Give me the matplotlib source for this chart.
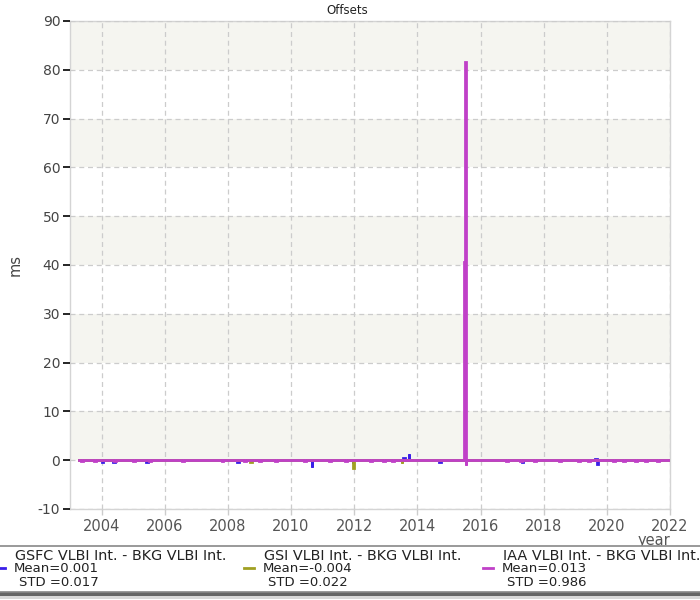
import matplotlib
matplotlib.use("Agg")
import matplotlib.pyplot as plt
from matplotlib.patches import Rectangle
from matplotlib.lines import Line2D

# ---- data ----
series_names = ["GSFC VLBI Int. - BKG VLBI Int.",
                "GSI VLBI Int. - BKG VLBI Int.",
                "IAA VLBI Int. - BKG VLBI Int."]
series_colors = ["#3a1fe8", "#a0a022", "#c040c8"]
means = ["0.001", "-0.004", "0.013"]
stds = ["0.017", "0.022", "0.986"]
t_start, t_end = 2003.30, 2022.00

# departures from the zero baseline (epoch in years, offset in ms)
gsfc_t = [2004.00, 2004.35, 2005.40, 2008.30, 2010.67, 2011.95, 2013.56, 2013.74,
          2014.70, 2017.30, 2019.63, 2019.70]
gsfc_v = [-0.3, -0.3, -0.3, -0.3, -1.3, -0.6, 0.4, 1.3,
          -0.3, -0.3, 0.3, -0.8]

gsi_t = [2008.70, 2011.97, 2013.52]
gsi_v = [-0.3, -1.6, -0.5]

iaa_t = [2003.35, 2003.75, 2004.40, 2005.00, 2005.50, 2006.55, 2007.80, 2008.50, 2009.00,
         2009.50, 2010.40, 2011.20, 2011.70, 2012.50, 2012.90, 2013.20,
         2015.49, 2015.52, 2015.54,
         2016.80, 2017.25, 2017.70, 2018.50, 2019.10, 2019.40, 2020.20, 2020.50, 2020.90,
         2021.20, 2021.60]
iaa_v = [-0.25, -0.25, -0.25, -0.25, -0.25, -0.25, -0.25, -0.25, -0.25,
         -0.25, -0.25, -0.25, -0.25, -0.25, -0.25, -0.25,
         40.7, 81.5, -1.0,
         -0.25, -0.25, -0.25, -0.25, -0.25, -0.25, -0.25, -0.25, -0.25,
         -0.25, -0.25]

series_t = [gsfc_t, gsi_t, iaa_t]
series_v = [gsfc_v, gsi_v, iaa_v]

x_ticks = [2004, 2006, 2008, 2010, 2012, 2014, 2016, 2018, 2020, 2022]
y_ticks = [-10, 0, 10, 20, 30, 40, 50, 60, 70, 80, 90]
shaded_bands = [(0, 10), (20, 30), (40, 50), (60, 70), (80, 90)]


def build_path(ts, vs):
    xs, ys = [t_start], [0.0]
    for t, v in zip(ts, vs):
        w = 0.06 if abs(v) < 0.5 else 0.008
        xs += [t, t, t + w, t + w]
        ys += [0.0, v, v, 0.0]
    xs.append(t_end)
    ys.append(0.0)
    return xs, ys


# ---- figure ----
W, H = 700, 600
fig = plt.figure(figsize=(7, 6), dpi=100)
ax = fig.add_axes([70 / W, 1 - 509 / H, 600 / W, 488 / H])
ax.set_facecolor("white")

for lo, hi in shaded_bands:
    ax.add_patch(Rectangle((0, lo), 1, hi - lo, transform=ax.get_yaxis_transform(),
                           facecolor="#f5f5f0", edgecolor="none", zorder=0.5))

for t, v, c in zip(series_t, series_v, series_colors):
    xs, ys = build_path(t, v)
    ax.plot(xs, ys, color=c, lw=2, zorder=3, solid_joinstyle="miter")

ax.set_xlim(2003, 2022)
ax.set_ylim(-10, 90)
ax.set_xticks(x_ticks)
ax.set_yticks(y_ticks)
ax.set_xticklabels([str(x) for x in x_ticks])
ax.set_yticklabels([str(y) for y in y_ticks])
ax.grid(True, color="#cccccc", linestyle=(0, (4, 3)), lw=0.9, zorder=1)
ax.set_axisbelow(False)
for ln in ax.get_xgridlines() + ax.get_ygridlines():
    ln.set_zorder(1)
for s in ax.spines.values():
    s.set_color("#d4d4d4")
    s.set_linewidth(1)
ax.tick_params(axis="y", colors="#444444", labelsize=10, length=5, width=1.2, pad=2)
ax.tick_params(axis="y", color="black")
ax.tick_params(axis="x", colors="#555555", labelsize=10.5, length=4, width=1, pad=3)
ax.tick_params(axis="x", color="#cccccc")

fig.text(347 / W, 1 - 11 / H, "Offsets", ha="center", va="center", fontsize=8.5, color="#222222")
fig.text(15 / W, 1 - 265 / H, "ms", ha="center", va="center", rotation=90, fontsize=10.5, color="#444444")
fig.text(654 / W, 1 - 541 / H, "year", ha="center", va="center", fontsize=10.5, color="#555555")

# ---- legend box ----
shadow = Rectangle((-5 / W, 1 - 596 / H), 715 / W, 50 / H, transform=fig.transFigure,
                   facecolor="#666666", edgecolor="none", zorder=5)
shadow2 = Rectangle((-5 / W, 1 - 599 / H), 715 / W, 50 / H, transform=fig.transFigure,
                    facecolor="#d8d8d8", edgecolor="none", zorder=4)
box = Rectangle((-5 / W, 1 - 592 / H), 715 / W, 46 / H, transform=fig.transFigure,
                facecolor="white", edgecolor="#888888", lw=1.2, zorder=6)
fig.add_artist(shadow2)
fig.add_artist(shadow)
fig.add_artist(box)

col_x = [0, 249, 488]
for i in range(3):
    x0 = col_x[i]
    fig.text((x0 + 15) / W, 1 - 556 / H, series_names[i], ha="left", va="center",
             fontsize=10.4, color="#222222", zorder=7)
    fig.add_artist(Line2D([(x0 - 5) / W, (x0 + 5) / W], [1 - 568 / H, 1 - 568 / H],
                          transform=fig.transFigure, color=series_colors[i], lw=2, zorder=7))
    fig.text((x0 + 14) / W, 1 - 568 / H, "Mean=" + means[i], ha="left", va="center",
             fontsize=9.5, color="#222222", zorder=7)
    fig.text((x0 + 19) / W, 1 - 582 / H, "STD =" + stds[i], ha="left", va="center",
             fontsize=9.5, color="#222222", zorder=7)

fig.savefig("out.png", dpi=100)
